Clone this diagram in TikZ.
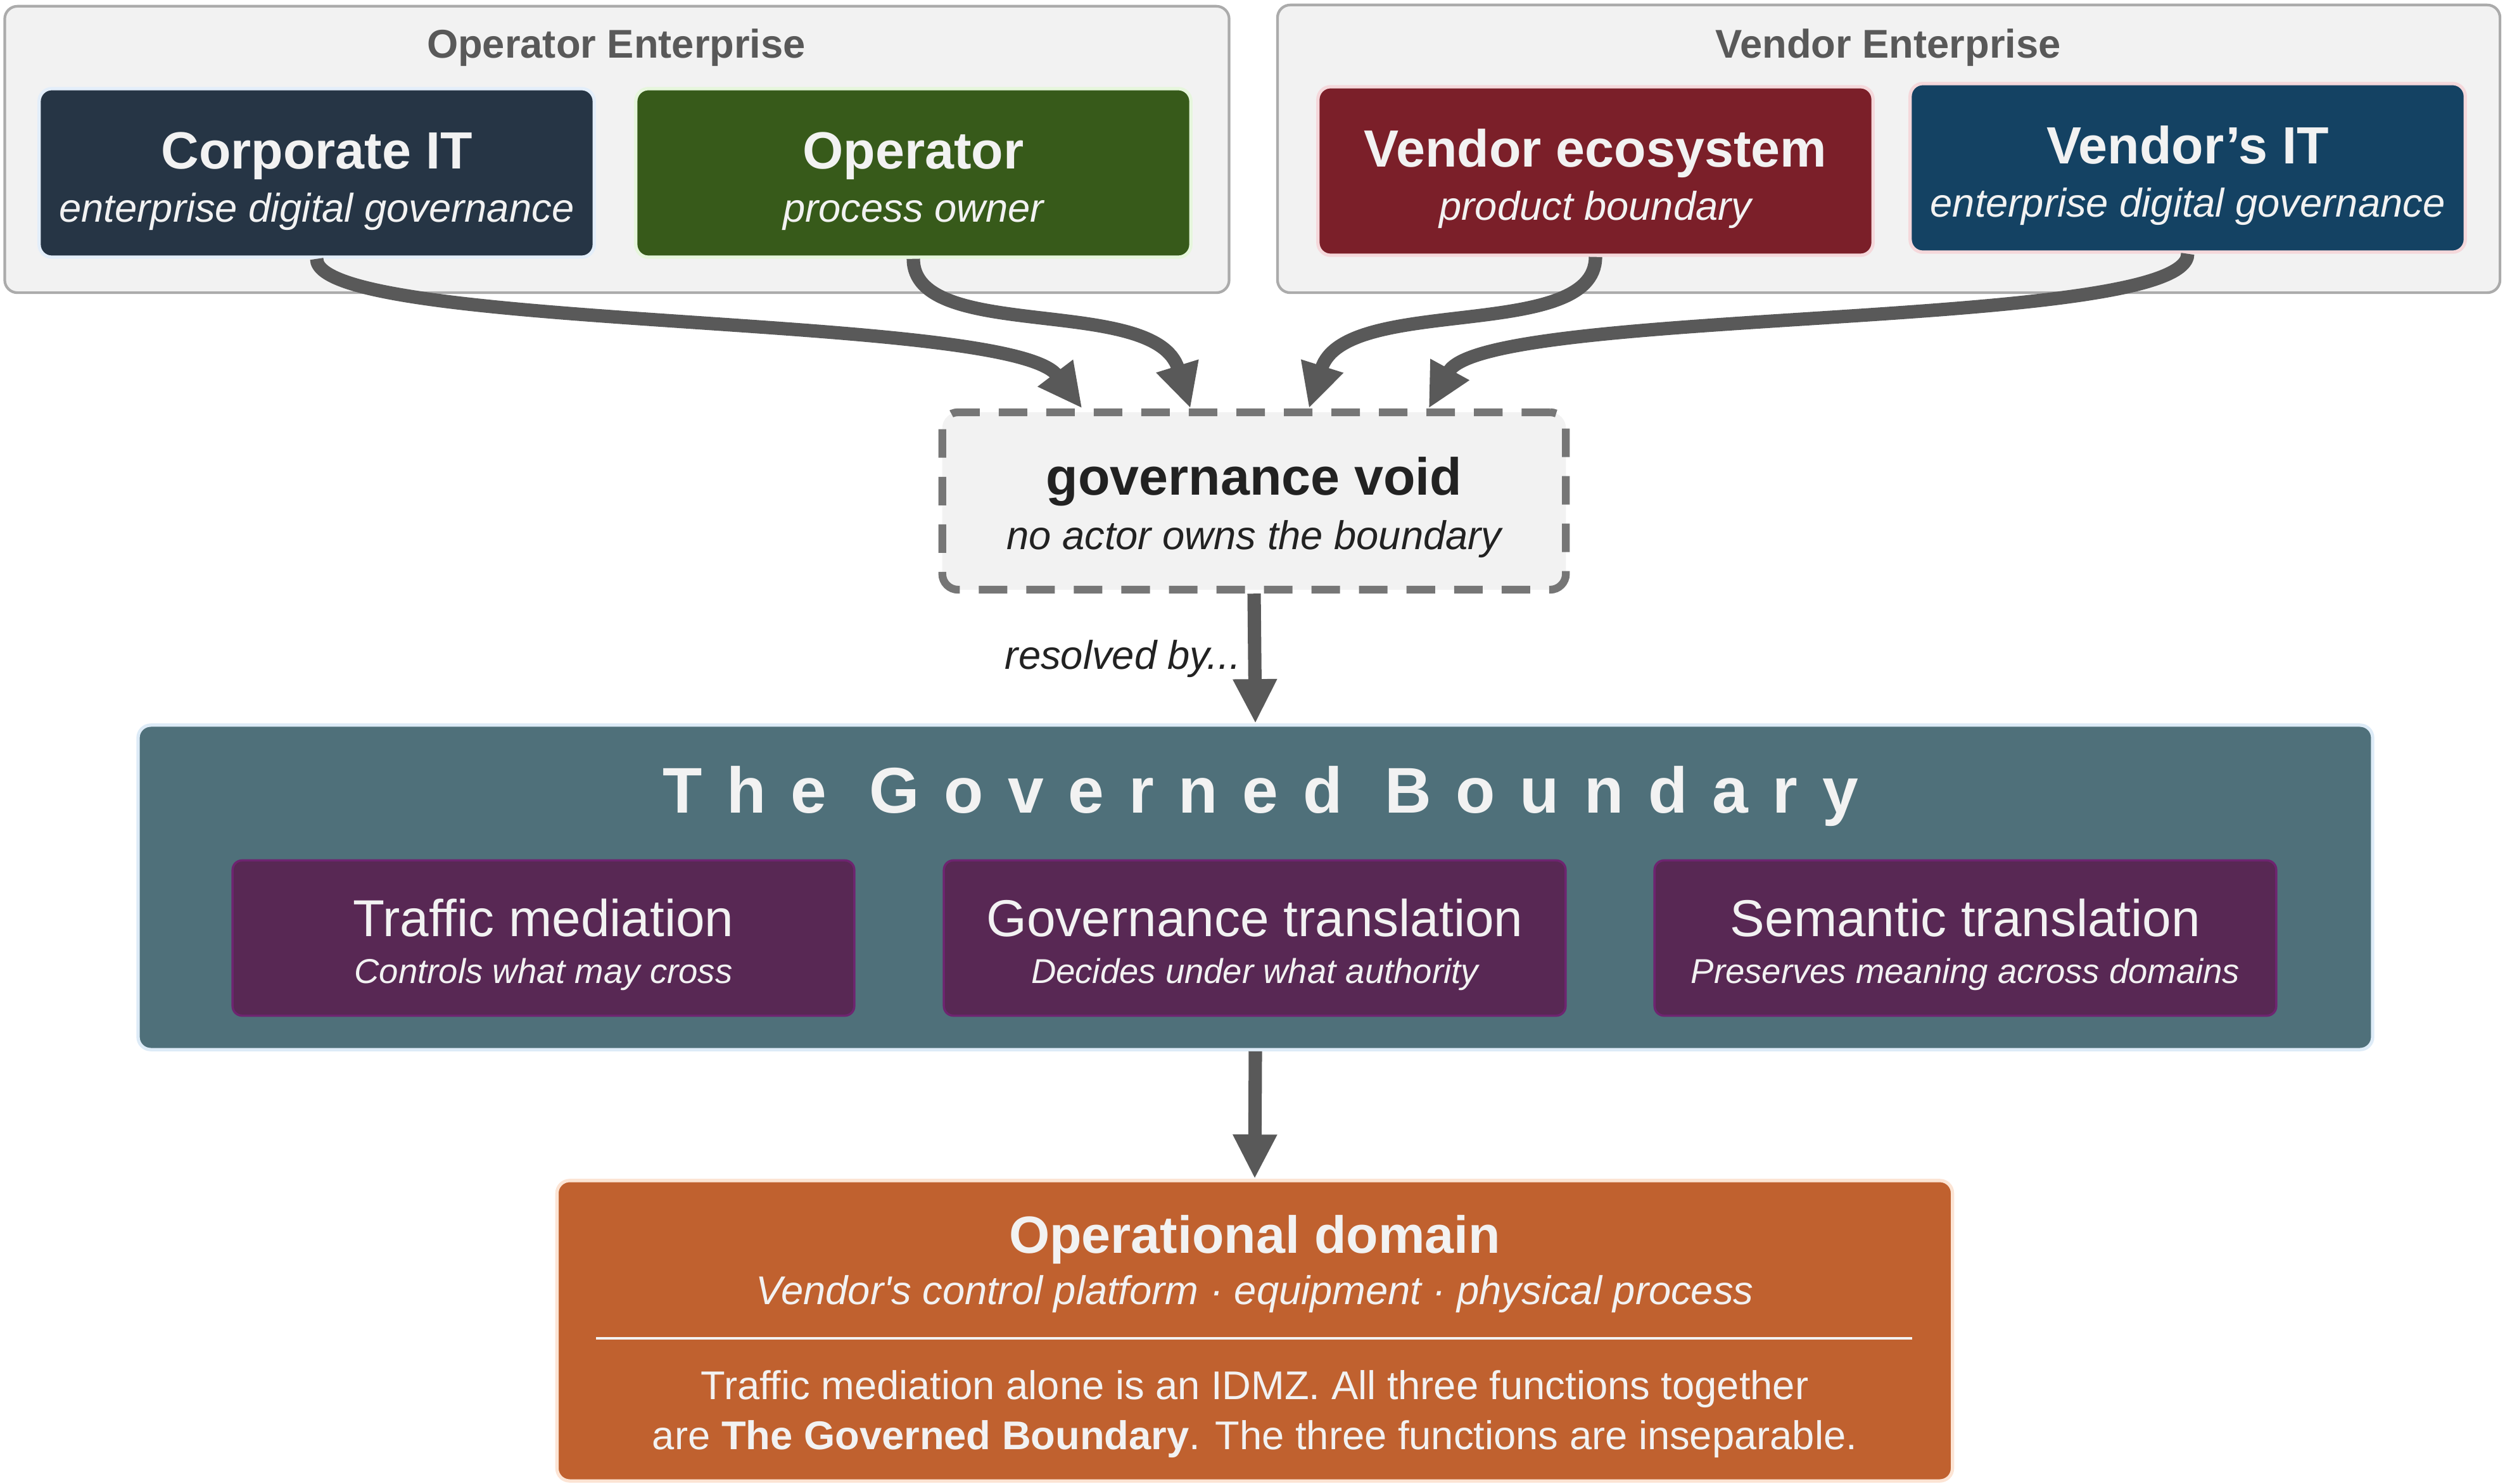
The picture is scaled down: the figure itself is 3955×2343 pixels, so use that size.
\documentclass[tikz,border=0pt]{standalone}
\usepackage{fontspec}
\setmainfont{Liberation Sans}
\usepackage{tikz}
\usetikzlibrary{arrows.meta, positioning, calc}
\definecolor{grpFill}{HTML}{F2F2F2}
\definecolor{grpLine}{HTML}{ABABAB}
\definecolor{grpText}{HTML}{595959}
\definecolor{itNavy}{HTML}{263545}
\definecolor{itEdge}{HTML}{E3EEFA}
\definecolor{opGreen}{HTML}{375A1A}
\definecolor{opEdge}{HTML}{E6F6DC}
\definecolor{venRed}{HTML}{7B1F29}
\definecolor{venBlue}{HTML}{144263}
\definecolor{venEdge}{HTML}{F5D8DB}
\definecolor{voidLine}{HTML}{767676}
\definecolor{voidText}{HTML}{222222}
\definecolor{arrowGray}{HTML}{595959}
\definecolor{gbTeal}{HTML}{4F707A}
\definecolor{gbEdge}{HTML}{DDEBF7}
\definecolor{fnPurple}{HTML}{582854}
\definecolor{fnEdge}{HTML}{6E2470}
\definecolor{odOrange}{HTML}{C0612F}
\definecolor{odEdge}{HTML}{FCE4D4}
\definecolor{paleText}{HTML}{F2F2F2}

\tikzset{
    groupbox/.style={draw=grpLine, line width=1.2pt, fill=grpFill, rounded corners=0.2cm},
    grouptitle/.style={text=grpText, font=\fontsize{18}{22}\selectfont\bfseries},
    actorbox/.style={rounded corners=0.2cm, text=paleText, align=center, line width=1.5pt,
        minimum width=8.76cm, minimum height=2.66cm, inner sep=0pt,
        font=\fontsize{18}{24}\selectfont},
    voidbox/.style={draw=voidLine, line width=3.5pt, fill=grpFill, rounded corners=0.25cm,
        dash pattern=on 0.45cm off 0.3cm, text=voidText, align=center,
        minimum width=9.84cm, minimum height=2.8cm, font=\fontsize{18}{24.5}\selectfont},
    funcbox/.style={draw=fnEdge, line width=1pt, fill=fnPurple, rounded corners=0.15cm,
        text=paleText, align=center, minimum width=9.81cm, minimum height=2.45cm,
        font=\fontsize{15.5}{21}\selectfont},
    flow/.style={draw=arrowGray, line width=6pt, -{Triangle[length=0.7cm, width=0.65cm]}},
}
\newcommand{\actortext}[2]{{\fontsize{23.5}{24}\selectfont\bfseries\rule{0pt}{24pt}#1}\\{\itshape #2}}
\newcommand{\functext}[2]{{\fontsize{23.3}{21}\selectfont\rule{0pt}{23pt}#1}\\{\itshape #2}}

\begin{document}
\begin{tikzpicture}[x=0.01cm, y=-0.01cm]
    \useasboundingbox (0,0) rectangle (3955,2343);

    % Enterprises
    \node[groupbox, minimum width=19.32cm, minimum height=4.52cm] (opent) at (974,236) {};
    \node[grouptitle] (opentlbl) at (973,75) {Operator Enterprise};
    \node[groupbox, minimum width=19.29cm, minimum height=4.54cm] (vendent) at (2982,235) {};
    \node[grouptitle] (vendentlbl) at (2981,75) {Vendor Enterprise};

    % Actors
    \node[actorbox, fill=itNavy, draw=itEdge] (corpit) at (500,273) {\actortext{Corporate IT}{enterprise digital governance}};
    \node[actorbox, fill=opGreen, draw=opEdge] (operator) at (1442,273) {\actortext{Operator}{process owner}};
    \node[actorbox, fill=venRed, draw=venEdge] (vendeco) at (2519,270) {\actortext{Vendor ecosystem}{product boundary}};
    \node[actorbox, fill=venBlue, draw=venEdge] (vendit) at (3454,265) {\actortext{Vendor’s IT}{enterprise digital governance}};

    % Void
    \node[voidbox] (void) at (1980,791) {{\fontsize{23.5}{24}\selectfont\bfseries\rule{0pt}{23pt}governance void}\\{\itshape no actor owns the boundary}};
    \coordinate (in1) at ($(void.north west)+(227,0)$);
    \coordinate (in2) at ($(void.north west)+(398,0)$);
    \coordinate (in3) at ($(void.north west)+(585,0)$);
    \coordinate (in4) at ($(void.north west)+(774,0)$);

    \draw[flow] (corpit.south) .. controls +(0,114) and +(-115,-151) .. (in1);
    \draw[flow] (operator.south) .. controls +(0,134) and +(-56,-181) .. (in2);
    \draw[flow] (vendeco.south) .. controls +(0,136) and +(57,-181) .. (in3);
    \draw[flow] (vendit.south) .. controls +(0,122) and +(88,-161) .. (in4);

    % Governed boundary
    \node[fill=gbTeal, draw=gbEdge, line width=1.5pt, rounded corners=0.2cm, minimum width=35.26cm, minimum height=5.12cm] (boundary) at (1982,1401) {};
    \node[text=paleText, font=\fontsize{29}{34}\selectfont\bfseries\addfontfeature{LetterSpace=38}] (gbtitle) at (1990,1257) {The Governed Boundary};
    \node[funcbox] (traffic) at (858,1481) {\functext{Traffic mediation}{Controls what may cross}};
    \node[funcbox] (govtrans) at (1981,1481) {\functext{Governance translation}{Decides under what authority}};
    \node[funcbox] (semtrans) at (3103,1481) {\functext{Semantic translation}{Preserves meaning across domains}};

    \draw[flow] (void.south) -- node[midway, left, text=voidText, font=\fontsize{18}{22}\selectfont\itshape] (resolvedlbl) {resolved by...} (boundary.north);

    % Operational domain
    \node[fill=odOrange, draw=odEdge, line width=1.5pt, rounded corners=0.2cm, minimum width=22.02cm, minimum height=4.74cm] (opdomain) at (1981,2101) {};
    \node[text=paleText, font=\fontsize{23.5}{28}\selectfont\bfseries] (odtitle) at (1981,1957) {Operational domain};
    \node[text=paleText, font=\fontsize{18}{22}\selectfont\itshape] (odsub) at (1981,2043) {Vendor\textquotesingle s control platform · equipment · physical process};
    \draw[paleText, line width=1pt] (941,2113) -- (3019,2113);
    \node[text=paleText, align=center, font=\fontsize{18}{22.5}\selectfont] (odbody) at (1981,2233) {Traffic mediation alone is an IDMZ. All three functions together\\are \textbf{The Governed Boundary}. The three functions are inseparable.};

    \draw[flow] (boundary.south) -- (opdomain.north);
\end{tikzpicture}
\end{document}
